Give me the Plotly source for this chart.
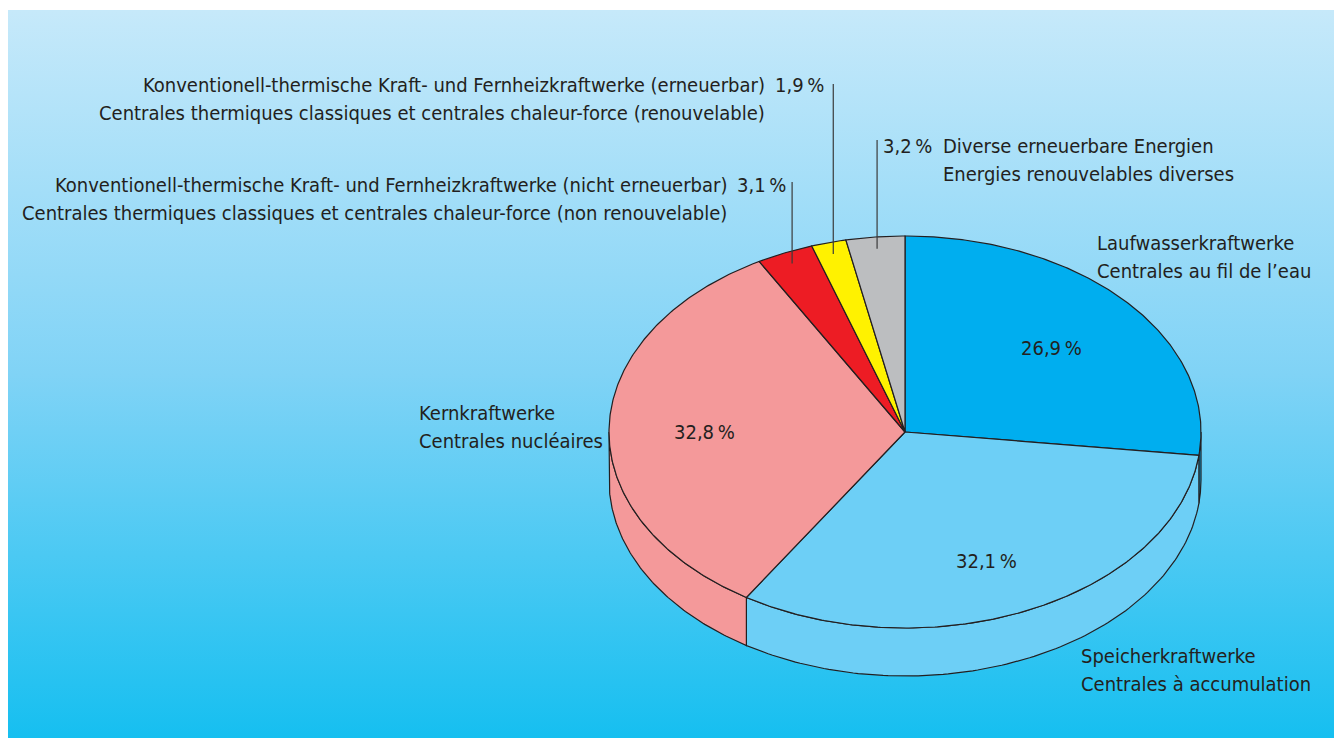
import numpy as np
import plotly.graph_objects as go

# ---------------- data ----------------
labels_de = [
    "Laufwasserkraftwerke",
    "Speicherkraftwerke",
    "Kernkraftwerke",
    "Konventionell-thermische Kraft- und Fernheizkraftwerke (nicht erneuerbar)",
    "Konventionell-thermische Kraft- und Fernheizkraftwerke (erneuerbar)",
    "Diverse erneuerbare Energien",
]
labels_fr = [
    "Centrales au fil de l’eau",
    "Centrales à accumulation",
    "Centrales nucléaires",
    "Centrales thermiques classiques et centrales chaleur-force (non renouvelable)",
    "Centrales thermiques classiques et centrales chaleur-force (renouvelable)",
    "Energies renouvelables diverses",
]
shares = [26.9, 32.1, 32.8, 3.1, 1.9, 3.2]
colors = ["#00aeef", "#6dcff6", "#f4999a", "#ed1c24", "#fff200", "#bcbec0"]

# ---------------- layout constants (page pixels) ----------------
W, H = 1334, 730
OX, OY = 8, 8                  # body margin offset
CX, CY = 905, 432              # pie centre
RX, RY = 296, 196              # ellipse radii of top face
DEPTH = 48                     # pie thickness
LINE = "#231f20"
TXT = "#231f20"
FONT = "DejaVu Sans Condensed, Liberation Sans Narrow, sans-serif"
FS = 20
LH = 28                        # line spacing


def pt(theta_deg, f=1.0, dy=0.0):
    t = np.radians(theta_deg)
    return CX + f * RX * np.sin(t), CY - f * RY * np.cos(t) + dy


def fmt(v):
    return f"{v:.1f}".replace(".", ",") + "\u2009%"


fig = go.Figure()

# background panel with vertical gradient
fig.add_trace(go.Scatter(
    x=[7, 1338, 1338, 7, 7], y=[10, 10, 738, 738, 10],
    mode="lines", line=dict(width=0), fill="toself",
    fillgradient=dict(type="vertical", start=10, stop=738,
                      colorscale=[[0, "#c6e9fa"], [0.5, "#80d3f6"], [1, "#16bff0"]]),
    hoverinfo="skip", showlegend=False,
))

total = sum(shares)
bounds = np.concatenate([[0], np.cumsum(shares) / total * 360.0])

# side walls (front half only: 90..270 deg)
for i, c in enumerate(colors):
    a, b = max(bounds[i], 90.0), min(bounds[i + 1], 270.0)
    if b <= a:
        continue
    th = np.linspace(a, b, 120)
    xt, yt = pt(th)
    xb, yb = pt(th[::-1], dy=DEPTH)
    xs = np.concatenate([xt, xb, xt[:1]])
    ys = np.concatenate([yt, yb, yt[:1]])
    fig.add_trace(go.Scatter(x=xs, y=ys, mode="lines", fill="toself",
                             fillcolor=c, line=dict(color=LINE, width=1.2),
                             hoverinfo="skip", showlegend=False))

# top faces
for i, c in enumerate(colors):
    th = np.linspace(bounds[i], bounds[i + 1], max(int((bounds[i + 1] - bounds[i]) * 2), 4))
    xa, ya = pt(th)
    xs = np.concatenate([[CX], xa, [CX]])
    ys = np.concatenate([[CY], ya, [CY]])
    fig.add_trace(go.Scatter(x=xs, y=ys, mode="lines", fill="toself",
                             fillcolor=c, line=dict(color=LINE, width=1.2),
                             hoverinfo="skip", showlegend=False))

# leader lines for small slices (vertical, from inside the slice up to label)
leader_top = {3: 182, 4: 84, 5: 140}
for i, ytop in leader_top.items():
    mid = (bounds[i] + bounds[i + 1]) / 2
    x0, y0 = pt(mid, f=0.94)
    fig.add_trace(go.Scatter(x=[x0, x0], y=[y0, ytop], mode="lines",
                             line=dict(color="#3a3a3a", width=1.2),
                             hoverinfo="skip", showlegend=False))

ann = []


def add(text, x, y, xa="left"):
    ann.append(dict(text=text, x=x, y=y, xref="x", yref="y", xanchor=xa,
                    yanchor="middle", showarrow=False,
                    font=dict(family=FONT, size=FS, color=TXT)))


def add2(i, x, y, xa="left"):
    add(labels_de[i], x, y, xa)
    add(labels_fr[i], x, y + LH, xa)


# percentages inside big slices
add(fmt(shares[0]), 1051, 348, xa="center")
add(fmt(shares[1]), 986, 561, xa="center")
add(fmt(shares[2]), 704, 432, xa="center")

# outer labels
add2(0, 1095, 243)
add2(1, 1079, 656)
add2(2, 417, 413)
add2(3, 729, 185, xa="right")
add(fmt(shares[3]), 735, 185)
add2(4, 767, 85, xa="right")
add(fmt(shares[4]), 773, 85)
add(fmt(shares[5]), 934, 146, xa="right")
add2(5, 941, 146)

fig.update_layout(
    width=W, height=H, margin=dict(l=0, r=0, t=0, b=0),
    paper_bgcolor="white", plot_bgcolor="white",
    xaxis=dict(range=[OX, OX + W], visible=False, fixedrange=True),
    yaxis=dict(range=[OY + H, OY], visible=False, fixedrange=True),
    annotations=ann, showlegend=False,
)

fig.write_html("out.html")
